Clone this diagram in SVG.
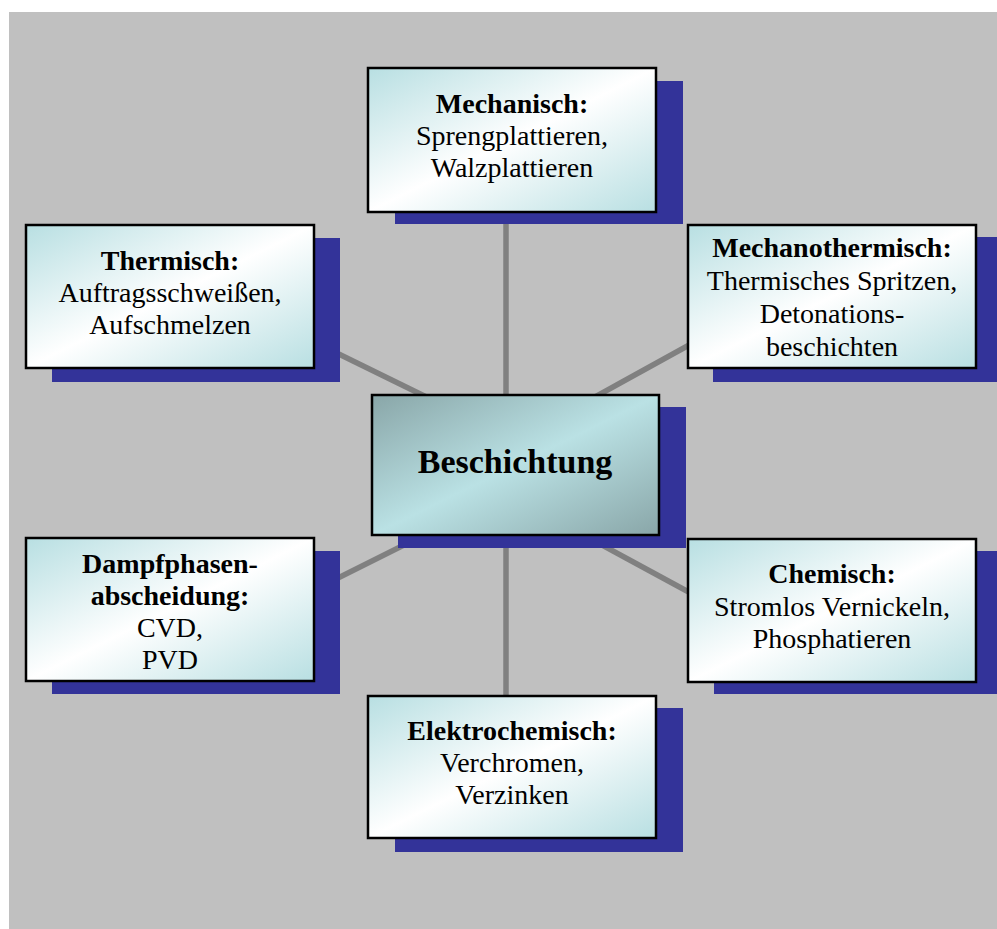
<svg xmlns="http://www.w3.org/2000/svg" width="997" height="929" viewBox="0 0 997 929">
  <defs>
    <linearGradient id="gradOuter" x1="0" y1="0" x2="1" y2="1">
      <stop offset="0" stop-color="#b8dfe2"/>
      <stop offset="0.5" stop-color="#ffffff"/>
      <stop offset="1" stop-color="#b8dfe2"/>
    </linearGradient>
    <linearGradient id="gradCenter" x1="0" y1="0" x2="1" y2="1">
      <stop offset="0" stop-color="#89a6a8"/>
      <stop offset="0.5" stop-color="#bae1e4"/>
      <stop offset="1" stop-color="#89a6a8"/>
    </linearGradient>
  </defs>
  <style>
    .shadow { fill: #333399; }
    .box { fill: url(#gradOuter); stroke: #000000; stroke-width: 2.5; }
    .core { fill: url(#gradCenter); stroke: #000000; stroke-width: 2.5; }
    .link { stroke: #808080; stroke-width: 5.5; fill: none; }
    text { font-family: "Liberation Serif", "Times New Roman", serif; font-size: 28px; fill: #000000; text-anchor: middle; }
    .head { font-weight: bold; }
    .title { font-weight: bold; font-size: 34px; }
  </style>

  <!-- background panel -->
  <rect x="9" y="12" width="988" height="917" fill="#c0c0c0"/>

  <!-- connectors between the hub and the categories -->
  <g id="connectors">
    <line class="link" x1="506" y1="200" x2="506" y2="720"/>
    <line class="link" x1="300" y1="335" x2="506" y2="436"/>
    <line class="link" x1="720" y1="328" x2="506" y2="446"/>
    <line class="link" x1="300" y1="597" x2="506" y2="494"/>
    <line class="link" x1="720" y1="609" x2="506" y2="493"/>
  </g>

  <g id="node-mechanisch">
    <rect class="shadow" x="395" y="81" width="288" height="143"/>
    <rect class="box" x="368" y="68" width="288" height="144"/>
    <text class="head" x="512" y="113">Mechanisch:</text>
    <text x="512" y="145">Sprengplattieren,</text>
    <text x="512" y="177">Walzplattieren</text>
  </g>

  <g id="node-thermisch">
    <rect class="shadow" x="52" y="238" width="288" height="144"/>
    <rect class="box" x="26" y="225" width="288" height="143"/>
    <text class="head" x="170" y="270">Thermisch:</text>
    <text x="170" y="302">Auftragsschweißen,</text>
    <text x="170" y="334">Aufschmelzen</text>
  </g>

  <g id="node-mechanothermisch">
    <rect class="shadow" x="713" y="237" width="288" height="145"/>
    <rect class="box" x="688" y="225" width="288" height="143"/>
    <text class="head" x="832" y="257">Mechanothermisch:</text>
    <text x="832" y="290">Thermisches Spritzen,</text>
    <text x="832" y="323">Detonations-</text>
    <text x="832" y="356">beschichten</text>
  </g>

  <g id="node-beschichtung">
    <rect class="shadow" x="398" y="407" width="288" height="141"/>
    <rect class="core" x="372" y="395" width="287" height="140"/>
    <text class="title" x="515" y="473">Beschichtung</text>
  </g>

  <g id="node-dampfphasen">
    <rect class="shadow" x="52" y="551" width="288" height="143"/>
    <rect class="box" x="26" y="538" width="288" height="143"/>
    <text class="head" x="170" y="573">Dampfphasen-</text>
    <text class="head" x="170" y="605">abscheidung:</text>
    <text x="170" y="637">CVD,</text>
    <text x="170" y="669">PVD</text>
  </g>

  <g id="node-chemisch">
    <rect class="shadow" x="714" y="551" width="288" height="143"/>
    <rect class="box" x="688" y="539" width="288" height="143"/>
    <text class="head" x="832" y="583">Chemisch:</text>
    <text x="832" y="616">Stromlos Vernickeln,</text>
    <text x="832" y="648">Phosphatieren</text>
  </g>

  <g id="node-elektrochemisch">
    <rect class="shadow" x="395" y="708" width="288" height="144"/>
    <rect class="box" x="368" y="696" width="288" height="142"/>
    <text class="head" x="512" y="740">Elektrochemisch:</text>
    <text x="512" y="772">Verchromen,</text>
    <text x="512" y="804">Verzinken</text>
  </g>
</svg>
